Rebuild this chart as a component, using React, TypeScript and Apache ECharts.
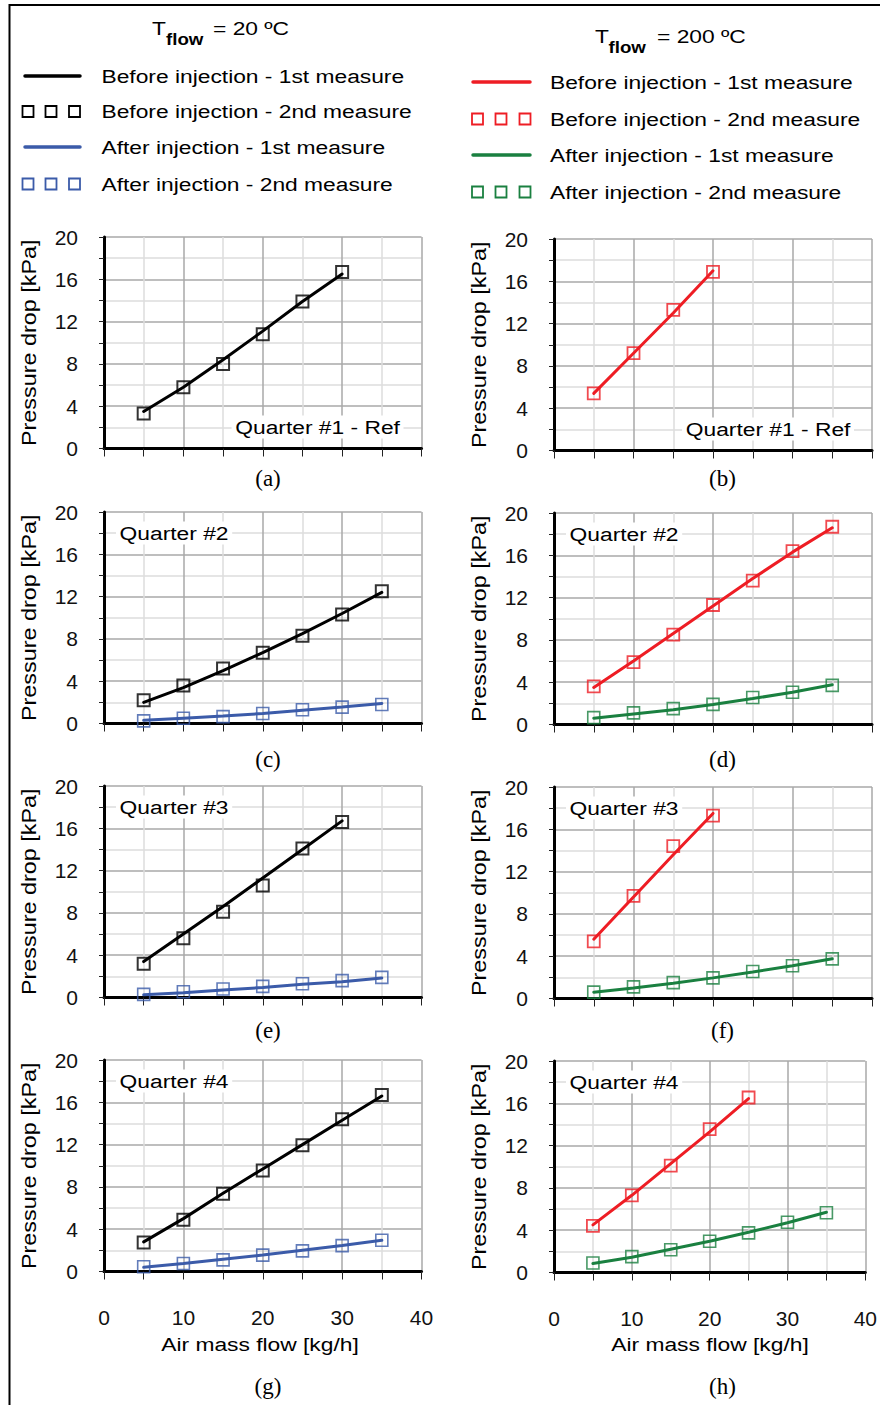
import React, { useEffect, useRef } from 'react';
import * as echarts from 'echarts';

// ---------- data ----------
const massFlow = [5, 10, 15, 20, 25, 30, 35];
const yTickLabels = [0, 4, 8, 12, 16, 20];
const xTickLabels = [0, 10, 20, 30, 40];

// T = 20 ºC
const q1_20_before1 = [3.5, 5.8, 8.4, 11.1, 13.9, 16.5];
const q1_20_before2 = [3.3, 5.8, 8.0, 10.8, 13.9, 16.7];
const q2_20_before1 = [2.0, 3.4, 5.0, 6.7, 8.5, 10.4, 12.4];
const q2_20_before2 = [2.2, 3.6, 5.2, 6.7, 8.3, 10.3, 12.5];
const q2_20_after1 = [0.3, 0.5, 0.7, 0.95, 1.25, 1.55, 1.9];
const q2_20_after2 = [0.25, 0.5, 0.65, 0.95, 1.3, 1.55, 1.8];
const q3_20_before1 = [3.4, 6.0, 8.6, 11.3, 14.0, 16.7];
const q3_20_before2 = [3.2, 5.6, 8.1, 10.6, 14.1, 16.6];
const q3_20_after1 = [0.25, 0.45, 0.7, 0.95, 1.25, 1.5, 1.85];
const q3_20_after2 = [0.3, 0.55, 0.8, 1.05, 1.3, 1.6, 1.9];
const q4_20_before1 = [2.8, 5.0, 7.4, 9.7, 12.0, 14.3, 16.6];
const q4_20_before2 = [2.75, 4.9, 7.35, 9.55, 11.95, 14.4, 16.7];
const q4_20_after1 = [0.4, 0.75, 1.15, 1.55, 2.0, 2.45, 2.95];
const q4_20_after2 = [0.45, 0.75, 1.1, 1.55, 1.95, 2.45, 2.95];

// T = 200 ºC
const q1_200_before1 = [5.4, 9.2, 13.0, 17.0];
const q1_200_before2 = [5.4, 9.2, 13.3, 16.9];
const q2_200_before1 = [3.5, 6.0, 8.6, 11.2, 13.8, 16.3, 18.6];
const q2_200_before2 = [3.6, 5.9, 8.5, 11.3, 13.6, 16.4, 18.7];
const q2_200_after1 = [0.6, 1.0, 1.4, 1.9, 2.45, 3.05, 3.75];
const q2_200_after2 = [0.65, 1.1, 1.5, 1.9, 2.55, 3.05, 3.7];
const q3_200_before1 = [5.6, 9.6, 13.6, 17.5];
const q3_200_before2 = [5.4, 9.7, 14.4, 17.3];
const q3_200_after1 = [0.6, 1.0, 1.45, 1.95, 2.5, 3.1, 3.75];
const q3_200_after2 = [0.6, 1.1, 1.5, 1.95, 2.55, 3.1, 3.75];
const q4_200_before1 = [4.5, 7.3, 10.3, 13.3, 16.45];
const q4_200_before2 = [4.4, 7.3, 10.1, 13.55, 16.55];
const q4_200_after1 = [0.85, 1.45, 2.2, 2.95, 3.8, 4.7, 5.7];
const q4_200_after2 = [0.9, 1.5, 2.15, 2.95, 3.75, 4.75, 5.65];

const legendLabels = [
  'Before injection - 1st measure',
  'Before injection - 2nd measure',
  'After injection - 1st measure',
  'After injection - 2nd measure',
];
const panelLetters = ['(a)', '(b)', '(c)', '(d)', '(e)', '(f)', '(g)', '(h)'];
const quarterLabels = ['Quarter #1 - Ref', 'Quarter #2', 'Quarter #3', 'Quarter #4'];

// ---------- styles ----------
const COL = { black: '#000000', blue: '#3B5BA9', red: '#EE1D24', green: '#1A8040' };
const SANS = '"Liberation Sans", Arial, sans-serif';
const SERIF = '"Liberation Serif", "Times New Roman", serif';
const SX = 1.2;

const panels = [
  { col: 0, row: 0, b1: q1_20_before1, b2: q1_20_before2, a1: null, a2: null },
  { col: 1, row: 0, b1: q1_200_before1, b2: q1_200_before2, a1: null, a2: null },
  { col: 0, row: 1, b1: q2_20_before1, b2: q2_20_before2, a1: q2_20_after1, a2: q2_20_after2 },
  { col: 1, row: 1, b1: q2_200_before1, b2: q2_200_before2, a1: q2_200_after1, a2: q2_200_after2 },
  { col: 0, row: 2, b1: q3_20_before1, b2: q3_20_before2, a1: q3_20_after1, a2: q3_20_after2 },
  { col: 1, row: 2, b1: q3_200_before1, b2: q3_200_before2, a1: q3_200_after1, a2: q3_200_after2 },
  { col: 0, row: 3, b1: q4_20_before1, b2: q4_20_before2, a1: q4_20_after1, a2: q4_20_after2 },
  { col: 1, row: 3, b1: q4_200_before1, b2: q4_200_before2, a1: q4_200_after1, a2: q4_200_after2 },
];

const gridLeft = [104, 554];
const gridWidth = [317.5, 318];
const gridTop = [
  [237, 512, 786, 1060],
  [239, 513, 787, 1061],
];
const gridHeight = 211.5;
const letterY = [478, 759, 1030, 1386];
const letterX = [268, 722.5];
const yNameX = [30, 480];
const xNameX = [260, 710];

function pts(arr: number[]) {
  return arr.map((v, i) => [massFlow[i], v]);
}

function txt(text: string, x: number, y: number, opts: any = {}) {
  return {
    type: 'text',
    x,
    y,
    scaleX: opts.scaleX ?? SX,
    rotation: opts.rotation ?? 0,
    z: 100,
    silent: true,
    style: {
      text,
      x: 0,
      y: 0,
      fill: opts.fill ?? '#000',
      fontSize: opts.fontSize ?? 19,
      fontFamily: opts.fontFamily ?? SANS,
      fontWeight: opts.fontWeight ?? 'normal',
      align: opts.align ?? 'left',
      verticalAlign: opts.verticalAlign ?? 'middle',
      textAlign: opts.align ?? 'left',
      textVerticalAlign: opts.verticalAlign ?? 'middle',
      backgroundColor: opts.backgroundColor,
      padding: opts.padding,
    },
  };
}

function buildOption() {
  const grid: any[] = [];
  const xAxis: any[] = [];
  const yAxis: any[] = [];
  const series: any[] = [];
  const graphic: any[] = [];

  panels.forEach((p, i) => {
    const left = gridLeft[p.col];
    const top = gridTop[p.col][p.row];
    const width = gridWidth[p.col];
    grid.push({ left, top, width, height: gridHeight, containLabel: false });
    xAxis.push({
      type: 'value',
      gridIndex: i,
      min: 0,
      max: 40,
      interval: 5,
      axisLine: { show: true, onZero: false, lineStyle: { color: '#000', width: 3 } },
      axisTick: { show: true, length: 8, lineStyle: { color: '#222', width: 1 } },
      axisLabel: {
        show: p.row === 3,
        margin: 35,
        fontSize: 21,
        fontFamily: SANS,
        color: '#111',
        formatter: (v: number) => (xTickLabels.includes(v) ? String(v) : ''),
      },
      splitLine: { show: true, lineStyle: { color: ['#a8a8a8', '#dcdcdc'], width: 1.5 } },
    });
    yAxis.push({
      type: 'value',
      gridIndex: i,
      min: 0,
      max: 20,
      interval: 2,
      axisLine: { show: true, onZero: false, lineStyle: { color: '#000', width: 3 } },
      axisTick: { show: true, length: 5, lineStyle: { color: '#222', width: 1 } },
      axisLabel: {
        margin: 26,
        fontSize: 21,
        fontFamily: SANS,
        color: '#111',
        formatter: (v: number) => (yTickLabels.includes(v) ? String(v) : ''),
      },
      splitLine: { show: true, lineStyle: { color: ['#a8a8a8', '#dcdcdc'], width: 1.5 } },
    });

    const cb = p.col === 0 ? COL.black : COL.red;
    const ca = p.col === 0 ? COL.blue : COL.green;
    const base = { xAxisIndex: i, yAxisIndex: i, silent: true };
    series.push({
      ...base,
      type: 'line',
      data: pts(p.b1),
      showSymbol: false,
      symbol: 'none',
      lineStyle: { color: cb, width: 3, cap: 'round' },
      z: 3,
    });
    if (p.a1) {
      series.push({
        ...base,
        type: 'line',
        data: pts(p.a1),
        showSymbol: false,
        symbol: 'none',
        lineStyle: { color: ca, width: 3, cap: 'round' },
        z: 3,
      });
    }
    series.push({
      ...base,
      type: 'scatter',
      data: pts(p.b2),
      symbol: 'rect',
      symbolSize: 12,
      itemStyle: { color: 'rgba(0,0,0,0)', borderColor: cb, borderWidth: p.col === 0 ? 2 : 1.8 },
      z: 4,
    });
    if (p.a2) {
      series.push({
        ...base,
        type: 'scatter',
        data: pts(p.a2),
        symbol: 'rect',
        symbolSize: 12,
        itemStyle: { color: 'rgba(0,0,0,0)', borderColor: ca, borderWidth: 1.6 },
        z: 4,
      });
    }

    // quarter annotation
    if (p.row === 0) {
      graphic.push(
        txt(quarterLabels[0], left + width - 18, top + 190, {
          align: 'right',
          backgroundColor: '#fff',
          padding: [2, 3],
        })
      );
    } else {
      graphic.push(
        txt(quarterLabels[p.row], left + 12, top + 21, {
          backgroundColor: '#fff',
          padding: [2, 3],
        })
      );
    }
    // y axis name
    graphic.push(
      txt('Pressure drop [kPa]', yNameX[p.col], top + gridHeight / 2, {
        rotation: Math.PI / 2,
        align: 'center',
        fontSize: 19.5,
      })
    );
    // panel letter
    graphic.push(
      txt(panelLetters[i], letterX[p.col], letterY[p.row], {
        align: 'center',
        fontFamily: SERIF,
        fontSize: 23,
        scaleX: 1,
      })
    );
    if (p.row === 3) {
      graphic.push(
        txt('Air mass flow [kg/h]', xNameX[p.col], 1344, { align: 'center', fontSize: 19 })
      );
    }
  });

  // frame
  graphic.push({
    type: 'line',
    z: 100,
    silent: true,
    shape: { x1: 9.5, y1: 5, x2: 880, y2: 5 },
    style: { stroke: '#000', lineWidth: 2 },
  });
  graphic.push({
    type: 'line',
    z: 100,
    silent: true,
    shape: { x1: 9.5, y1: 4, x2: 9.5, y2: 1405 },
    style: { stroke: '#000', lineWidth: 2 },
  });

  // legends
  const legendCfg = [
    {
      tX: 152, tY: 28.5, subX: 166, subY: 39.5, eqX: 213, eqText: '= 20 ºC',
      lineX: [25, 80], sqX: [28, 51, 74.5], textX: 101.5, ys: [76, 111.5, 147, 184],
      cb: COL.black, ca: COL.blue,
    },
    {
      tX: 595, tY: 36, subX: 608.5, subY: 47, eqX: 657, eqText: '= 200 ºC',
      lineX: [473, 530], sqX: [477.5, 501, 525], textX: 550, ys: [82, 119, 155, 192],
      cb: COL.red, ca: COL.green,
    },
  ];
  legendCfg.forEach((L) => {
    graphic.push(txt('T', L.tX, L.tY, {}));
    graphic.push(txt('flow', L.subX, L.subY, { fontWeight: 'bold', fontSize: 17, scaleX: 1.1 }));
    graphic.push(txt(L.eqText, L.eqX, L.tY, {}));
    legendLabels.forEach((lab, k) => {
      const y = L.ys[k];
      const c = k < 2 ? L.cb : L.ca;
      if (k % 2 === 0) {
        graphic.push({
          type: 'line',
          z: 100,
          silent: true,
          shape: { x1: L.lineX[0], y1: y, x2: L.lineX[1], y2: y },
          style: { stroke: c, lineWidth: 3.5, lineCap: 'round' },
        });
      } else {
        L.sqX.forEach((cx) => {
          graphic.push({
            type: 'rect',
            z: 100,
            silent: true,
            shape: { x: cx - 5.5, y: y - 5.5, width: 11, height: 11 },
            style: { fill: 'none', stroke: c, lineWidth: 1.8 },
          });
        });
      }
      graphic.push(txt(lab, L.textX, y, {}));
    });
  });

  return {
    animation: false,
    backgroundColor: '#ffffff',
    grid,
    xAxis,
    yAxis,
    series,
    graphic,
  };
}

export default function App() {
  const ref = useRef<HTMLDivElement>(null);
  useEffect(() => {
    if (!ref.current) return;
    const chart = echarts.init(ref.current, null, { renderer: 'svg' });
    chart.setOption(buildOption() as any);
    return () => chart.dispose();
  }, []);
  return (
    <div
      ref={ref}
      style={{ position: 'absolute', left: 0, top: 0, width: 880, height: 1405, background: '#fff' }}
    />
  );
}
